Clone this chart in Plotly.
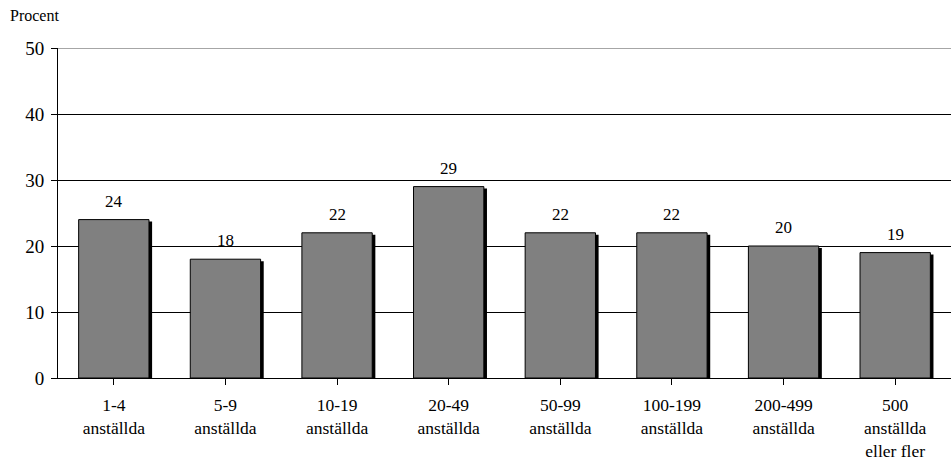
import plotly.graph_objects as go

# Share of companies (percent) by company size
categories = ["1-4<br>anställda", "5-9<br>anställda", "10-19<br>anställda",
              "20-49<br>anställda", "50-99<br>anställda", "100-199<br>anställda",
              "200-499<br>anställda", "500<br>anställda<br>eller fler"]
values = [24, 18, 22, 29, 22, 22, 20, 19]
y_ticks = [0, 10, 20, 30, 40, 50]

SERIF = "Liberation Serif"
BAR_W = 0.63
x = list(range(len(categories)))

fig = go.Figure()

# drop shadow: black copy nudged right and down
fig.add_trace(go.Bar(
    x=x, y=[v - 0.3 for v in values], width=BAR_W, offset=-BAR_W / 2 + 0.028,
    marker=dict(color="black", line=dict(width=0)), hoverinfo="skip",
))
fig.add_trace(go.Bar(
    x=x, y=values, width=BAR_W, offset=-BAR_W / 2,
    marker=dict(color="#808080", line=dict(color="black", width=1)),
))

for xi, v in zip(x, values):
    fig.add_annotation(x=xi, y=v, text=str(v), showarrow=False,
                       yanchor="bottom", yshift=7,
                       font=dict(family=SERIF, size=17, color="black"))

fig.add_annotation(xref="paper", yref="paper", x=-0.056, y=1.066,
                   xanchor="left", yanchor="bottom", text="Procent",
                   showarrow=False, font=dict(family=SERIF, size=16, color="black"))

# top border of the plot area is a lighter grey line
fig.add_shape(type="line", xref="paper", yref="y", x0=0, x1=1, y0=50, y1=50,
              line=dict(color="#888888", width=1.5), layer="above")

fig.update_layout(
    width=951, height=465,
    margin=dict(l=58, r=0, t=48, b=87),
    barmode="overlay", showlegend=False,
    plot_bgcolor="white", paper_bgcolor="white",
    font=dict(family=SERIF, color="black"),
    xaxis=dict(
        tickmode="array", tickvals=x, ticktext=categories,
        range=[-0.5, len(categories) - 0.5],
        tickson="boundaries", ticks="outside", ticklen=6, tickcolor="black",
        ticklabelstandoff=5,
        showline=True, linecolor="black", linewidth=1,
        showgrid=False, zeroline=False,
        tickfont=dict(family=SERIF, size=17.5, color="black"),
    ),
    yaxis=dict(
        range=[0, 50], tickvals=y_ticks,
        ticks="outside", ticklen=6, tickcolor="black",
        ticklabelstandoff=3,
        showline=True, linecolor="black", linewidth=1,
        showgrid=True, gridcolor="black", gridwidth=1, zeroline=False,
        tickfont=dict(family=SERIF, size=19, color="black"),
    ),
)

fig.write_html("out.html")
